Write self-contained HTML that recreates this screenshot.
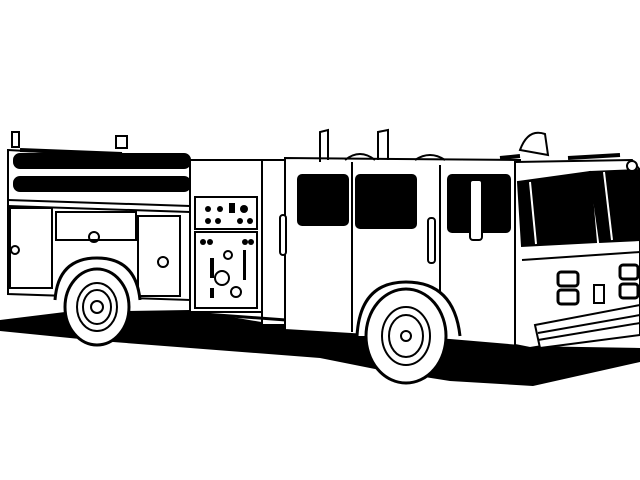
<!DOCTYPE html>
<html><head><style>html,body{margin:0;padding:0;background:#fff;width:640px;height:480px;overflow:hidden}</style></head>
<body>
<svg width="640" height="480" viewBox="0 0 640 480" xmlns="http://www.w3.org/2000/svg" stroke="#000" stroke-width="2" fill="none">
<rect width="640" height="480" fill="#fff" stroke="none"/>
<!-- shadow -->
<path d="M0,320 L65,312 L190,310 L285,326 L400,334 L520,346 L640,348 L640,362 L533,386 L450,381 L380,370 L320,358 L100,341 L0,331 Z" fill="#000" stroke="none"/>
<!-- rear body -->
<path d="M8,150 L190,160 L190,300 L8,294 Z" fill="#fff"/>
<rect x="14" y="154" width="176" height="14" rx="6" fill="#000"/>
<rect x="14" y="177" width="176" height="14" rx="6" fill="#000"/>
<line x1="8" y1="200" x2="190" y2="206"/>
<line x1="8" y1="206" x2="190" y2="212"/>
<rect x="10" y="208" width="42" height="80" fill="#fff"/>
<rect x="56" y="212" width="80" height="28" fill="#fff"/>
<rect x="138" y="216" width="42" height="80" fill="#fff"/>
<circle cx="15" cy="250" r="4"/><circle cx="163" cy="262" r="5"/><circle cx="94" cy="237" r="5"/>
<!-- posts -->
<rect x="12" y="132" width="7" height="15" fill="#fff"/><rect x="116" y="136" width="11" height="12" fill="#fff"/>
<line x1="20" y1="150" x2="122" y2="154" stroke-width="4"/>
<!-- rear wheel -->
<path d="M55,300 Q58,258 97,258 Q136,258 140,300" stroke-width="3" fill="#fff"/>
<ellipse cx="97" cy="307" rx="32" ry="38" fill="#fff" stroke-width="3"/>
<ellipse cx="97" cy="307" rx="20" ry="24"/><ellipse cx="97" cy="307" rx="14" ry="17"/><circle cx="97" cy="307" r="6"/>
<!-- pump panel -->
<rect x="190" y="160" width="72" height="152" fill="#fff"/>
<rect x="195" y="197" width="62" height="32" fill="#fff"/>
<rect x="195" y="232" width="62" height="76" fill="#fff"/>
<g fill="#000" stroke="none">
<circle cx="208" cy="209" r="3"/><circle cx="220" cy="209" r="3"/><rect x="229" y="203" width="6" height="10"/><circle cx="244" cy="209" r="4"/>
<circle cx="208" cy="221" r="3"/><circle cx="218" cy="221" r="3"/><circle cx="240" cy="221" r="3"/><circle cx="250" cy="221" r="3"/>
<circle cx="203" cy="242" r="3"/><circle cx="210" cy="242" r="3"/><circle cx="245" cy="242" r="3"/><circle cx="251" cy="242" r="3"/>
<rect x="210" y="258" width="4" height="20"/><rect x="243" y="250" width="3" height="30"/><rect x="210" y="288" width="4" height="10"/>
</g>
<circle cx="222" cy="278" r="7"/><circle cx="236" cy="292" r="5"/><circle cx="228" cy="255" r="4"/>
<!-- middle -->
<rect x="262" y="160" width="24" height="165" fill="#fff"/>
<line x1="190" y1="313" x2="286" y2="320" stroke-width="3"/>
<!-- cab -->
<path d="M285,158 L520,160 L520,346 L450,340 L285,330 Z" fill="#fff"/>
<line x1="352" y1="162" x2="352" y2="332"/>
<line x1="440" y1="165" x2="440" y2="336"/>
<rect x="298" y="175" width="50" height="50" rx="4" fill="#000"/>
<rect x="356" y="175" width="60" height="53" rx="4" fill="#000"/>
<rect x="448" y="175" width="62" height="57" rx="4" fill="#000"/>
<rect x="280" y="215" width="6" height="40" rx="3" fill="#fff"/>
<rect x="428" y="218" width="7" height="45" rx="3" fill="#fff"/>
<rect x="470" y="180" width="12" height="60" rx="3" fill="#fff"/>
<path d="M320,162 L320,132 L328,130 L328,160 M378,160 L378,132 L388,130 L388,160 M345,160 Q360,148 375,160 M415,160 Q430,150 445,160"/>
<path d="M520,150 Q528,128 545,134 L548,155 Z" fill="#fff"/>
<line x1="500" y1="158" x2="520" y2="156" stroke-width="4"/>
<line x1="568" y1="158" x2="620" y2="155" stroke-width="4"/>
<!-- front wheel -->
<path d="M357,336 Q360,282 406,282 Q454,282 460,336" stroke-width="3" fill="#fff"/>
<ellipse cx="406" cy="336" rx="40" ry="47" fill="#fff" stroke-width="3"/>
<ellipse cx="406" cy="336" rx="24" ry="29"/><ellipse cx="406" cy="336" rx="17" ry="21"/><circle cx="406" cy="336" r="5"/>
<!-- front -->
<path d="M515,162 L632,160 L640,170 L640,330 L530,348 L515,345 Z" fill="#fff"/>
<path d="M518,182 L590,172 L596,242 L522,246 Z" fill="#000"/>
<path d="M590,172 L640,170 L640,240 L600,242 Z" fill="#000"/>
<line x1="530" y1="182" x2="536" y2="244" stroke="#fff" stroke-width="2"/>
<line x1="604" y1="172" x2="612" y2="240" stroke="#fff" stroke-width="2"/>
<line x1="522" y1="260" x2="640" y2="252"/>
<rect x="558" y="272" width="20" height="14" rx="3" stroke-width="3"/>
<rect x="558" y="290" width="20" height="14" rx="3" stroke-width="3"/>
<rect x="594" y="285" width="10" height="18" stroke-width="2"/>
<rect x="620" y="265" width="18" height="14" rx="3" stroke-width="3"/>
<rect x="620" y="284" width="18" height="14" rx="3" stroke-width="3"/>
<path d="M535,325 L640,305 L640,335 L540,348 Z" fill="#fff"/>
<line x1="538" y1="333" x2="640" y2="315"/><line x1="538" y1="340" x2="640" y2="323"/>
<circle cx="632" cy="166" r="5" fill="#fff"/>
</svg>
</body></html>
